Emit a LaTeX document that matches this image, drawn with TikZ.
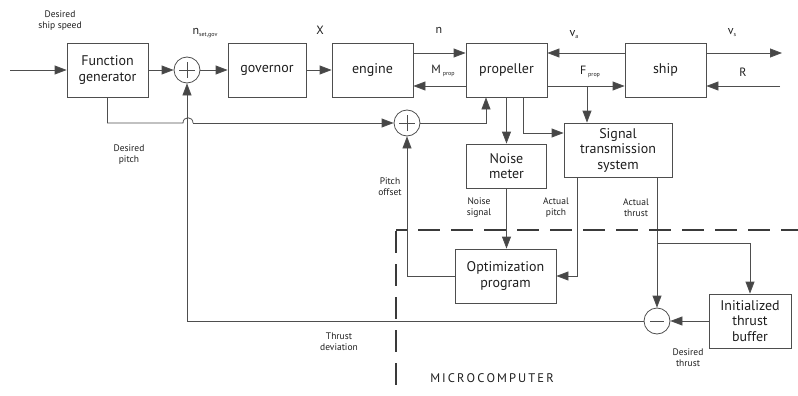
\documentclass[tikz,border=0pt]{standalone}
\usepackage{fontspec}
\setmainfont{PT Sans}
\usetikzlibrary{arrows.meta,calc}
\definecolor{ln}{HTML}{4E4E4E}
\definecolor{ah}{HTML}{464646}
\definecolor{dk}{HTML}{3A3A3A}
\definecolor{tx}{HTML}{1E1E1E}
\newcommand{\sbs}[1]{\raisebox{-2pt}{\fontsize{6}{7}\selectfont #1}}
\begin{document}
\begin{tikzpicture}[x=1pt,y=-1pt,
  every node/.style={text=tx},
  blk/.style={draw=ln, line width=0.8pt, minimum width=81pt, minimum height=54pt, align=center, font=\fontsize{14}{15.5}\selectfont, inner sep=0pt},
  lbl/.style={align=center, font=\fontsize{9.5}{11}\selectfont, inner sep=0pt},
  sym/.style={font=\fontsize{12}{13}\selectfont, inner sep=0pt},
  conn/.style={draw=ln, line width=0.8pt},
  arr/.style={conn, -{Triangle[length=12pt,width=9pt,fill=ah]}},
  sumn/.style={circle, draw=ln, line width=0.8pt, minimum size=26pt, inner sep=0pt},
  plus/.style={sumn, path picture={\draw[ln,line width=0.6pt]
     ([xshift=-8pt]path picture bounding box.center) -- ([xshift=8pt]path picture bounding box.center)
     ([yshift=-8pt]path picture bounding box.center) -- ([yshift=8pt]path picture bounding box.center);}},
  minus/.style={sumn, path picture={\draw[ln,line width=0.6pt]
     ([xshift=-7pt]path picture bounding box.center) -- ([xshift=7pt]path picture bounding box.center);}},
  bound/.style={draw=dk, line width=2.6pt, dash pattern=on 22pt off 11pt}
]
\useasboundingbox (0,0) rectangle (798,396);

% blocks
\node[blk] (fg) at (107.5,70) {Function\\generator};
\node[blk, minimum width=78pt] (gov) at (267,70) {governor};
\node[blk] (eng) at (372.5,70) {engine};
\node[blk] (prop) at (506.5,70) {propeller};
\node[blk] (ship) at (665.5,70) {ship};
\node[blk, minimum width=108pt] (sig) at (618,150) {Signal\\transmission\\system};
\node[blk, minimum width=80pt, minimum height=44pt] (noise) at (506.5,166) {Noise\\meter};
\node[blk, minimum width=101pt] (opt) at (505.5,276) {Optimization\\program};
\node[blk, minimum width=82pt] (buf) at (750,321) {Initialized\\thrust\\buffer};
\node[plus] (s1) at (187,70) {};
\node[plus] (s2) at (407,123) {};
\node[minus] (s3) at (657,321) {};

% free ends
\coordinate (in1) at (10,70);
\coordinate (vsend) at (782,53);
\coordinate (rstart) at (780,86);
\coordinate (fb) at (587,86);
\coordinate (br) at (657,243);
\coordinate (hopL) at (183,123);
\coordinate (hopR) at (193,123);

% forward chain
\draw[arr] (in1) -- (fg.west);
\draw[arr] (fg.east) -- (s1.west);
\draw[arr] (s1.east) -- (gov.west);
\draw[arr] (gov.east) -- (eng.west);
\draw[arr] ([yshift=17pt]eng.east) -- ([yshift=17pt]prop.west);
\draw[arr] ([yshift=-16pt]prop.west) -- ([yshift=-16pt]eng.east);
\draw[arr] ([yshift=17pt]ship.west) -- ([yshift=17pt]prop.east);
\draw[arr] ([yshift=-16pt]prop.east) -- ([yshift=-16pt]ship.west);
\draw[arr] ([yshift=17pt]ship.east) -- (vsend);
\draw[arr] (rstart) -- ([yshift=-16pt]ship.east);
\draw[arr] (fb) -- (fb |- sig.north);

% propeller outputs
\draw[arr] (prop.south) -- (noise.north);
\draw[arr] ([xshift=16.5pt]prop.south) |- ([yshift=17pt]sig.west);

% desired pitch with hop
\draw[conn] (fg.south) |- (hopL) .. controls +(0,-7) and +(0,-7) .. (hopR);
\draw[arr] (hopR) -- (s2.west);
\draw[arr] (s2.east) -| ([xshift=-20.5pt]prop.south);

% optimisation loop
\draw[arr] (opt.west) -| (s2.south);
\draw[arr] (noise.south) -- (noise.south |- opt.north);
\draw[arr] ([xshift=-41pt]sig.south) |- (opt.east);

% thrust loop
\draw[arr] (s3.north |- sig.south) -- (s3.north);
\draw[arr] (br) -| (buf.north);
\draw[arr] (buf.west) -- (s3.east);
\draw[arr] (s3.west) -| (s1.south);

% microcomputer boundary
\draw[bound, dash phase=11pt] (396,230) -- (798,230);
\draw[bound] (396,231.3) -- (396,392);

% labels
\node[lbl] at (60,21) {Desired\\ship speed};
\node[sym] at (205,33) {n\sbs{set,gov}};
\node[sym] at (320,30) {X};
\node[sym] at (439,30) {n};
\node[sym] at (443,71) {M\,\sbs{prop}};
\node[sym] at (574,35) {v\sbs{a}};
\node[sym] at (590,72) {F\,\sbs{prop}};
\node[sym] at (732,33) {v\sbs{s}};
\node[sym] at (743,72) {R};
\node[lbl] at (129,155) {Desired\\pitch};
\node[lbl] at (390,187) {Pitch\\offset};
\node[lbl] at (479,208) {Noise\\signal};
\node[lbl] at (556,208) {Actual\\pitch};
\node[lbl] at (636,208) {Actual\\thrust};
\node[lbl] at (339,342) {Thrust\\deviation};
\node[lbl] at (688,358) {Desired\\thrust};
\node[font=\fontsize{12.5}{14}\selectfont, inner sep=0pt] at (492,378) {M\,I\,C\,R\,O\,C\,O\,M\,P\,U\,T\,E\,R};
\end{tikzpicture}
\end{document}
